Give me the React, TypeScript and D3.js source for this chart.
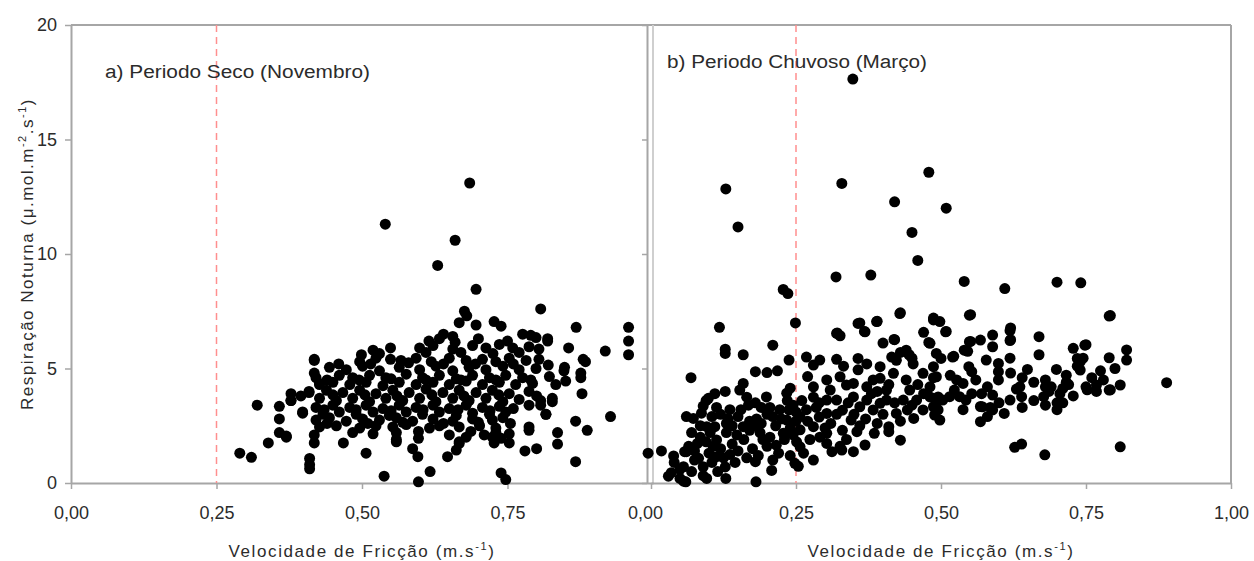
import * as d3 from "d3";
import { useEffect, useRef } from "react";

const xTicks = [0, 0.25, 0.5, 0.75, 1];
const yTicks = [0, 5, 10, 15, 20];
const limiteUstar = 0.25;

const labelSeco = "a) Periodo Seco (Novembro)";
const labelChuvoso = "b) Periodo Chuvoso (Março)";

// (u*, respiração) - período seco, novembro
const seco: [number, number][] = [
  [0.29, 1.3], [0.31, 1.12], [0.339, 1.75], [0.32, 3.4], [0.358, 3.35], [0.358, 2.8], [0.358, 2.2], [0.37, 2.05],
  [0.378, 3.9], [0.378, 3.6], [0.398, 3.1], [0.409, 4.0], [0.418, 5.4], [0.418, 4.8], [0.427, 4.35], [0.41, 1.07],
  [0.41, 0.8], [0.41, 0.62], [0.418, 1.75], [0.418, 2.1], [0.468, 1.75], [0.507, 1.3], [0.538, 0.3], [0.597, 0.05],
  [0.617, 0.5], [0.559, 1.9], [0.587, 1.5], [0.596, 1.15], [0.597, 2.25], [0.597, 1.95], [0.647, 1.15], [0.662, 1.44],
  [0.667, 1.73], [0.679, 2.0], [0.687, 2.25], [0.739, 0.44], [0.747, 0.15], [0.867, 0.93], [0.836, 2.2], [0.836, 1.7],
  [0.8, 1.5], [0.78, 1.4], [0.787, 2.3], [0.867, 2.7], [0.887, 2.3], [0.927, 2.9], [0.958, 6.8], [0.958, 6.2],
  [0.958, 5.6], [0.918, 5.76], [0.855, 5.9], [0.88, 5.4], [0.876, 4.8], [0.878, 3.9], [0.868, 6.8], [0.807, 7.6],
  [0.696, 8.46], [0.685, 13.1], [0.66, 10.6], [0.63, 9.5], [0.54, 11.3], [0.848, 5.05], [0.819, 6.3], [0.816, 3.0],
  [0.827, 3.55], [0.807, 3.4], [0.64, 6.5], [0.667, 7.0], [0.676, 7.5], [0.68, 7.3], [0.696, 6.9], [0.727, 7.05],
  [0.739, 6.85], [0.615, 6.2], [0.499, 5.6], [0.519, 5.8], [0.549, 5.9], [0.549, 5.4], [0.71, 2.1], [0.724, 2.0],
  [0.739, 1.95], [0.753, 1.75], [0.727, 1.75],
  [0.633, 6.3], [0.656, 6.4], [0.776, 6.5], [0.79, 6.45], [0.799, 6.35], [0.819, 6.2],
  [0.599, 5.9], [0.622, 6.0], [0.656, 5.85], [0.69, 6.0], [0.713, 5.9], [0.736, 6.05], [0.759, 5.9], [0.787, 5.95], [0.804, 5.85],
  [0.418, 5.35], [0.496, 5.3], [0.524, 5.45], [0.567, 5.35], [0.593, 5.45], [0.619, 5.3], [0.65, 5.45], [0.679, 5.35],
  [0.707, 5.4], [0.73, 5.3], [0.753, 5.45], [0.782, 5.35], [0.804, 5.4], [0.884, 5.3],
  [0.444, 5.05], [0.473, 4.95], [0.501, 5.1], [0.53, 4.9], [0.564, 5.05], [0.599, 4.95], [0.627, 5.1], [0.656, 4.9],
  [0.684, 5.05], [0.713, 4.95], [0.742, 5.1], [0.77, 4.95], [0.799, 5.0], [0.847, 4.9],
  [0.421, 4.6], [0.461, 4.7], [0.484, 4.6], [0.513, 4.7], [0.541, 4.6], [0.576, 4.75], [0.604, 4.6], [0.633, 4.7],
  [0.662, 4.55], [0.69, 4.7], [0.719, 4.6], [0.747, 4.7], [0.776, 4.6], [0.822, 4.65], [0.876, 4.6],
  [0.427, 4.3], [0.45, 4.4], [0.479, 4.3], [0.507, 4.4], [0.536, 4.25], [0.564, 4.4], [0.593, 4.3], [0.622, 4.4],
  [0.65, 4.3], [0.679, 4.45], [0.707, 4.3], [0.736, 4.4], [0.764, 4.3], [0.793, 4.35], [0.833, 4.3],
  [0.409, 3.95], [0.439, 4.05], [0.467, 3.95], [0.496, 4.05], [0.524, 3.9], [0.553, 4.05], [0.581, 3.95], [0.61, 4.1],
  [0.639, 3.95], [0.667, 4.05], [0.696, 3.95], [0.724, 4.05], [0.753, 3.9], [0.787, 4.0],
  [0.378, 3.6], [0.427, 3.7], [0.456, 3.6], [0.484, 3.7], [0.513, 3.55], [0.541, 3.7], [0.57, 3.6], [0.599, 3.7],
  [0.627, 3.55], [0.656, 3.7], [0.684, 3.6], [0.713, 3.7], [0.742, 3.55], [0.77, 3.65], [0.807, 3.6], [0.827, 3.7],
  [0.421, 3.3], [0.45, 3.4], [0.479, 3.3], [0.507, 3.4], [0.536, 3.25], [0.564, 3.4], [0.593, 3.3], [0.622, 3.4],
  [0.65, 3.25], [0.679, 3.4], [0.707, 3.3], [0.736, 3.35], [0.787, 3.4],
  [0.398, 3.05], [0.433, 3.0], [0.461, 3.1], [0.49, 3.0], [0.519, 3.1], [0.547, 2.95], [0.576, 3.1], [0.604, 3.0],
  [0.633, 3.1], [0.662, 2.95], [0.69, 3.05], [0.719, 3.0], [0.747, 3.1], [0.816, 3.0],
  [0.421, 2.75], [0.444, 2.85], [0.473, 2.7], [0.501, 2.8], [0.53, 2.75], [0.559, 2.85], [0.587, 2.7], [0.622, 2.8],
  [0.656, 2.7], [0.69, 2.8], [0.724, 2.75], [0.742, 2.85],
  [0.427, 2.45], [0.456, 2.5], [0.496, 2.4], [0.524, 2.5], [0.553, 2.45], [0.576, 2.55], [0.616, 2.4], [0.633, 2.5],
  [0.667, 2.45], [0.702, 2.5], [0.73, 2.4], [0.787, 2.45],
  [0.484, 2.2], [0.519, 2.15], [0.559, 2.2], [0.65, 2.1], [0.73, 2.2], [0.753, 2.15],
  [0.37, 2.0], [0.559, 1.8], [0.667, 1.8],
  [0.46, 5.2], [0.515, 5.2], [0.58, 5.25], [0.64, 5.2], [0.695, 5.2], [0.76, 5.2], [0.82, 5.15],
  [0.44, 4.5], [0.495, 4.5], [0.55, 4.55], [0.61, 4.5], [0.67, 4.5], [0.73, 4.5], [0.79, 4.5], [0.85, 4.45],
  [0.395, 3.8], [0.45, 3.85], [0.505, 3.85], [0.56, 3.8], [0.62, 3.85], [0.675, 3.8], [0.735, 3.85], [0.8, 3.8],
  [0.435, 3.2], [0.49, 3.2], [0.55, 3.15], [0.605, 3.2], [0.665, 3.2], [0.72, 3.15], [0.76, 3.25],
  [0.44, 2.6], [0.51, 2.6], [0.57, 2.65], [0.64, 2.6], [0.7, 2.65], [0.755, 2.6],
  [0.53, 5.65], [0.61, 5.7], [0.67, 5.7], [0.725, 5.65], [0.77, 5.7],
  [0.66, 6.15], [0.7, 6.3], [0.75, 6.2],
];

// (u*, respiração) - período chuvoso, março
const chuvoso: [number, number][] = [
  [0.348, 17.64], [0.129, 12.84], [0.15, 11.18], [0.329, 13.08], [0.479, 13.57], [0.42, 12.28], [0.509, 12.0],
  [0.45, 10.94], [0.46, 9.72], [0.319, 9.0], [0.379, 9.08], [0.54, 8.8], [0.61, 8.49], [0.7, 8.77], [0.741, 8.74],
  [0.228, 8.45], [0.236, 8.27], [0.249, 6.99], [0.792, 7.31], [0.889, 4.38], [0.809, 1.58], [0.679, 1.23],
  [0.627, 1.56], [0.639, 1.7], [0.43, 1.87], [0.551, 7.35], [0.43, 7.43], [0.39, 7.06], [0.36, 6.99], [0.368, 6.62],
  [0.321, 6.55], [0.326, 6.43], [0.118, 6.8], [0.128, 5.84], [0.128, 5.66], [0.159, 5.6], [0.21, 6.02], [0.069, 4.6],
  [-0.005, 1.3], [0.018, 1.4], [0.039, 1.18], [0.058, 1.37], [0.056, 0.71], [0.05, 0.6], [0.03, 0.3], [0.05, 0.2],
  [0.056, 0.08], [0.06, 0.05], [0.181, 0.05], [0.129, 0.2], [0.208, 0.55], [0.248, 0.86], [0.18, 0.93], [0.096, 0.2],
  [0.09, 0.32], [0.035, 0.45],
  [0.549, 7.33], [0.79, 7.29], [0.82, 5.81], [0.82, 5.37], [0.809, 4.28], [0.79, 5.47], [0.79, 4.06], [0.768, 4.28],
  [0.768, 4.0], [0.748, 6.02], [0.728, 5.88], [0.74, 4.93], [0.74, 5.3], [0.735, 5.44], [0.728, 3.8], [0.75, 4.2],
  [0.716, 4.71], [0.716, 4.4], [0.71, 4.13], [0.699, 4.96], [0.68, 4.5], [0.68, 4.2], [0.677, 3.77], [0.68, 3.4],
  [0.686, 4.0], [0.669, 6.39], [0.669, 5.6], [0.649, 4.96], [0.636, 4.2], [0.639, 3.77], [0.619, 6.65], [0.619, 6.22],
  [0.619, 5.45], [0.609, 3.04], [0.599, 5.22], [0.599, 4.86], [0.599, 4.5], [0.589, 6.46], [0.589, 5.95], [0.568, 6.24],
  [0.549, 6.17], [0.578, 5.37], [0.568, 3.34], [0.568, 2.68], [0.589, 3.19], [0.589, 3.84], [0.619, 3.62], [0.54, 5.8],
  [0.548, 5.08], [0.553, 4.86], [0.52, 5.5], [0.5, 5.44], [0.487, 4.6], [0.516, 4.7], [0.527, 4.5], [0.538, 4.35],
  [0.481, 6.1], [0.487, 7.2], [0.498, 7.05], [0.508, 6.6], [0.523, 4.06], [0.515, 3.77], [0.532, 3.77], [0.543, 3.62],
  [0.492, 3.48], [0.503, 3.62], [0.489, 2.97], [0.498, 2.75], [0.538, 3.2], [0.585, 3.3], [0.553, 3.9],
  [0.75, 6.04], [0.745, 5.45], [0.735, 5.1], [0.792, 4.07], [0.752, 4.07], [0.62, 6.77], [0.62, 6.26],
  [0.551, 6.18], [0.546, 5.75], [0.69, 4.2], [0.571, 3.33], [0.509, 6.62], [0.47, 6.58], [0.479, 6.14], [0.4, 6.11],
  [0.42, 6.26], [0.522, 5.53],
  [0.061, 2.9], [0.073, 2.82], [0.061, 1.37], [0.128, 4.0], [0.099, 3.7], [0.09, 3.36], [0.18, 4.86], [0.2, 4.82],
  [0.218, 4.9], [0.238, 5.37], [0.268, 5.5], [0.291, 5.37], [0.32, 6.53], [0.32, 5.4], [0.357, 6.97], [0.369, 6.6],
  [0.389, 7.05], [0.429, 7.4], [0.419, 6.27], [0.369, 1.66], [0.349, 1.37], [0.329, 1.44], [0.487, 7.12],
  [0.44, 5.8], [0.445, 5.6], [0.45, 5.45], [0.357, 5.44], [0.357, 4.94], [0.27, 4.65], [0.28, 5.15], [0.337, 4.28],
  [0.395, 4.57], [0.406, 4.06], [0.28, 4.2], [0.28, 3.75], [0.285, 3.3], [0.29, 2.88], [0.303, 3.62], [0.303, 3.04],
  [0.32, 3.62], [0.33, 3.18], [0.345, 2.75], [0.355, 2.24], [0.41, 2.46], [0.41, 2.24], [0.39, 2.6], [0.385, 2.17],
  [0.487, 3.33], [0.453, 2.82], [0.442, 3.19], [0.234, 3.92], [0.24, 4.14], [0.238, 3.19], [0.234, 2.75], [0.222, 3.2],
  [0.228, 2.17], [0.216, 1.65], [0.251, 1.8], [0.257, 1.58], [0.15, 2.9], [0.159, 2.46], [0.148, 2.1], [0.136, 1.24],
  [0.128, 0.7], [0.125, 1.1], [0.113, 3.3], [0.105, 2.9], [0.11, 2.46], [0.113, 1.88], [0.107, 1.6], [0.113, 1.15],
  [0.085, 2.0], [0.08, 1.73], [0.082, 1.08], [0.09, 0.71], [0.096, 2.46], [0.102, 2.2], [0.13, 2.2], [0.136, 3.2],
  [0.133, 2.8], [0.182, 2.8], [0.176, 2.5], [0.188, 2.2], [0.193, 1.9], [0.199, 3.76], [0.205, 3.3], [0.21, 2.9],
  [0.165, 3.75], [0.153, 4.06], [0.159, 4.35], [0.168, 3.4], [0.095, 3.6], [0.087, 3.05],
  [0.257, 2.9], [0.268, 3.2], [0.28, 2.46], [0.257, 2.32], [0.274, 1.9], [0.263, 1.3], [0.28, 1.0], [0.254, 0.73],
  [0.291, 2.0], [0.303, 1.73], [0.312, 1.37], [0.326, 1.6], [0.337, 1.9], [0.303, 2.17], [0.349, 3.76], [0.36, 3.33],
  [0.372, 3.62], [0.383, 3.19], [0.395, 3.48], [0.406, 3.62], [0.423, 3.04], [0.435, 3.62], [0.446, 4.06], [0.458, 3.62],
  [0.469, 3.19], [0.481, 3.76], [0.495, 3.19], [0.495, 3.76], [0.326, 4.64], [0.349, 4.35], [0.372, 4.2], [0.383, 4.5],
  [0.418, 4.79], [0.44, 4.5], [0.469, 4.79], [0.481, 4.2], [0.492, 4.64], [0.303, 4.5], [0.309, 4.06], [0.332, 5.1],
  [0.372, 5.2], [0.395, 5.08], [0.423, 5.36], [0.452, 5.2], [0.487, 5.08], [0.492, 5.66], [0.43, 5.7], [0.415, 5.5],
  [0.04, 0.9], [0.07, 0.5], [0.075, 1.0], [0.065, 1.6], [0.07, 2.2], [0.085, 2.5], [0.1, 1.3], [0.105, 0.9],
  [0.115, 0.5], [0.12, 1.5], [0.14, 1.7], [0.145, 0.9], [0.15, 1.4], [0.16, 1.9], [0.165, 1.1], [0.17, 2.3],
  [0.175, 1.5], [0.185, 1.2], [0.19, 2.6], [0.2, 1.6], [0.205, 2.0], [0.21, 1.0], [0.215, 2.5], [0.22, 1.3],
  [0.225, 2.8], [0.23, 1.9], [0.24, 2.4], [0.245, 3.4], [0.25, 2.7], [0.25, 3.1], [0.245, 2.1], [0.235, 3.6],
  [0.24, 1.2], [0.2, 3.0], [0.19, 3.3], [0.18, 3.5], [0.17, 2.7], [0.155, 3.2], [0.14, 2.5], [0.13, 2.6],
  [0.12, 3.0], [0.11, 3.9], [0.095, 1.8], [0.075, 1.4],
  [0.63, 4.1], [0.66, 3.6], [0.7, 3.5], [0.72, 4.3], [0.76, 4.6], [0.78, 4.5], [0.8, 5.0], [0.775, 4.9],
  [0.66, 4.4], [0.64, 4.6], [0.62, 4.8], [0.58, 4.2], [0.56, 4.5], [0.57, 3.9], [0.6, 3.5], [0.58, 2.9],
  [0.64, 3.3], [0.705, 3.9], [0.7, 3.2], [0.71, 3.5],
  [0.26, 3.6], [0.27, 2.7], [0.29, 3.5], [0.31, 2.6], [0.32, 3.0], [0.34, 3.5], [0.35, 3.0], [0.37, 2.8],
  [0.38, 3.9], [0.4, 3.0], [0.42, 3.5], [0.43, 2.7], [0.45, 3.4], [0.46, 4.3], [0.47, 3.9], [0.3, 2.4],
  [0.33, 2.3], [0.36, 2.5], [0.39, 4.0], [0.41, 4.3],
];

export default function App() {
  const svgRef = useRef<SVGSVGElement>(null);
  const width = 1254;
  const height = 561;

  useEffect(() => {
    const svg = d3.select(svgRef.current);
    svg.selectAll("*").remove();

    const font = "'Liberation Sans', Arial, sans-serif";
    const axisColor = "#a6a6a6";
    const textColor = "#2b2b2b";

    const y = d3.scaleLinear().domain([0, 20]).range([483, 25]);
    const xa = d3.scaleLinear().domain([0, 1]).range([71, 653]);
    const xb = d3.scaleLinear().domain([0, 1]).range([651, 1231]);
    const fmt = (d) => d3.format(".2f")(d).replace(".", ",");

    const styleAxis = (g, fontSize) => {
      g.select(".domain").attr("stroke", axisColor).attr("stroke-width", 2);
      g.selectAll(".tick line").attr("stroke", axisColor).attr("stroke-width", 1.5);
      g.selectAll(".tick text")
        .attr("fill", textColor)
        .attr("font-family", font)
        .attr("font-size", fontSize);
    };

    // frame: top and right border, right border of panel a
    svg.append("line")
      .attr("x1", xa(0)).attr("x2", xb(1))
      .attr("y1", y(20)).attr("y2", y(20))
      .attr("stroke", axisColor).attr("stroke-width", 2);
    svg.append("line")
      .attr("x1", xb(1)).attr("x2", xb(1))
      .attr("y1", y(20)).attr("y2", y(0))
      .attr("stroke", axisColor).attr("stroke-width", 2);
    svg.append("line")
      .attr("x1", xa(1)).attr("x2", xa(1))
      .attr("y1", y(20)).attr("y2", y(0))
      .attr("stroke", "#cfcfcf").attr("stroke-width", 2);

    // y axis of panel a
    svg.append("g")
      .attr("transform", `translate(${xa(0)},0)`)
      .call(d3.axisLeft(y).tickValues(yTicks).tickSize(6).tickSizeOuter(0).tickPadding(8))
      .call((g) => styleAxis(g, 18));

    // y axis of panel b (no labels)
    svg.append("g")
      .attr("transform", `translate(${xb(0) - 4},0)`)
      .call(d3.axisLeft(y).tickValues(yTicks).tickSize(5).tickSizeOuter(0).tickFormat(() => ""))
      .call((g) => styleAxis(g, 18));

    // x axes
    svg.append("g")
      .attr("transform", `translate(0,${y(0)})`)
      .call(d3.axisBottom(xa).tickValues(xTicks.slice(0, 4)).tickSize(6).tickSizeOuter(0).tickPadding(17).tickFormat(fmt))
      .call((g) => styleAxis(g, 18));
    svg.append("g")
      .attr("transform", `translate(0,${y(0)})`)
      .call(d3.axisBottom(xb).tickValues(xTicks).tickSize(6).tickSizeOuter(0).tickPadding(17).tickFormat(fmt))
      .call((g) => styleAxis(g, 18))
      .call((g) => g.selectAll(".tick text").filter((d) => d === 0).attr("dx", -6));

    // u* threshold
    [xa, xb].forEach((x) => {
      svg.append("line")
        .attr("x1", x(limiteUstar)).attr("x2", x(limiteUstar))
        .attr("y1", y(20)).attr("y2", y(0))
        .attr("stroke", "#ff8f8f")
        .attr("stroke-width", 1.5)
        .attr("stroke-dasharray", "7,5");
    });

    // points
    svg.append("g")
      .selectAll("circle")
      .data(seco)
      .enter()
      .append("circle")
      .attr("cx", (d) => xa(d[0]))
      .attr("cy", (d) => y(d[1]))
      .attr("r", 5.5)
      .attr("fill", "#000");

    svg.append("g")
      .selectAll("circle")
      .data(chuvoso)
      .enter()
      .append("circle")
      .attr("cx", (d) => xb(d[0]))
      .attr("cy", (d) => y(d[1]))
      .attr("r", 5.5)
      .attr("fill", "#000");

    // panel labels
    svg.append("text")
      .attr("x", 105).attr("y", 78)
      .attr("font-family", font).attr("font-size", 18)
      .attr("textLength", 265).attr("lengthAdjust", "spacingAndGlyphs")
      .attr("fill", textColor)
      .text(labelSeco);
    svg.append("text")
      .attr("x", 667).attr("y", 68)
      .attr("font-family", font).attr("font-size", 18)
      .attr("textLength", 260).attr("lengthAdjust", "spacingAndGlyphs")
      .attr("fill", textColor)
      .text(labelChuvoso);

    // x titles
    [xa, xb].forEach((x) => {
      const t = svg.append("text")
        .attr("x", x(0.5)).attr("y", 557)
        .attr("text-anchor", "middle")
        .attr("font-family", font).attr("font-size", 17)
        .attr("letter-spacing", 1.6)
        .attr("fill", textColor);
      t.append("tspan").text("Velocidade de Fricção (m.s");
      t.append("tspan").attr("dy", -7).attr("font-size", 11).text("-1");
      t.append("tspan").attr("dy", 7).text(")");
    });

    // y title
    const yt = svg.append("text")
      .attr("transform", `translate(33,${y(10)}) rotate(-90)`)
      .attr("text-anchor", "middle")
      .attr("font-family", font).attr("font-size", 17)
      .attr("letter-spacing", 1.5)
      .attr("fill", textColor);
    yt.append("tspan").text("Respiração Noturna (μ.mol.m");
    yt.append("tspan").attr("dy", -7).attr("font-size", 11).text("-2");
    yt.append("tspan").attr("dy", 7).text(".s");
    yt.append("tspan").attr("dy", -7).attr("font-size", 11).text("-1");
    yt.append("tspan").attr("dy", 7).text(")");
  }, []);

  return (
    <svg
      ref={svgRef}
      width={width}
      height={height}
      style={{ position: "absolute", left: 0, top: 0, background: "#fff" }}
    ></svg>
  );
}
